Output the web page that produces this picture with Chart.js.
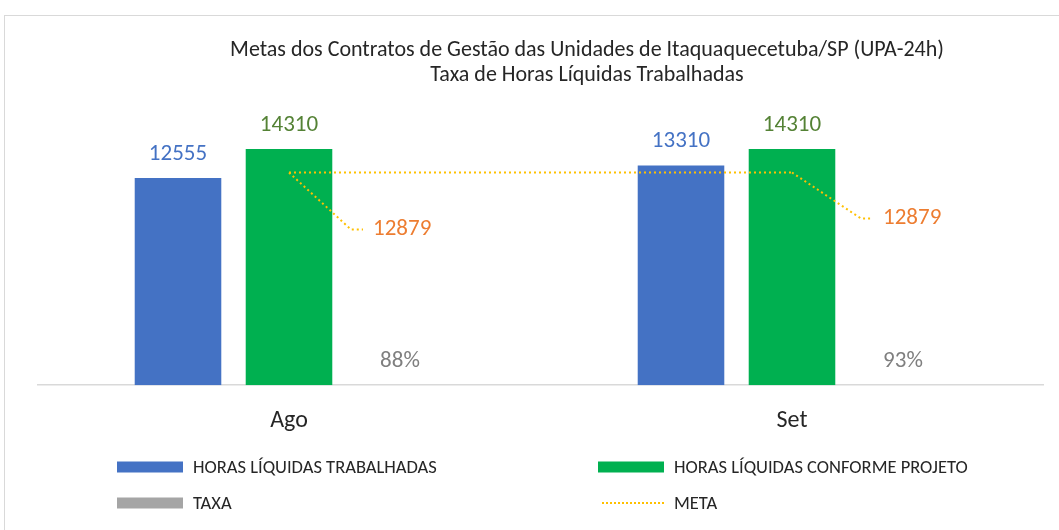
<!DOCTYPE html>
<html>
<head>
<meta charset="utf-8">
<script src="https://cdn.jsdelivr.net/npm/chart.js@4.4.0/dist/chart.umd.min.js"></script>
<style>
    body { margin: 0; background: #fff; }
    #frame { position: absolute; left: 4px; top: 15px; width: 1100px; height: 600px; border: 1px solid #d9d9d9; }
    #wrap { position: absolute; left: 0; top: 0; width: 1059px; height: 530px; }
</style>
</head>
<body>
<div id="frame"></div>
<div id="wrap"><canvas id="chart" width="1059" height="530"></canvas></div>
<script>
const categories = ["Ago", "Set"];
const horasTrabalhadas = [12555, 13310];
const horasProjeto = [14310, 14310];
const taxa = [0.88, 0.93];
const meta = [12879, 12879];
const titleLines = [
    "Metas dos Contratos de Gestão das Unidades de Itaquaquecetuba/SP (UPA-24h)",
    "Taxa de Horas Líquidas Trabalhadas"
];

const FONT = "Carlito, Lato, sans-serif";

function formatLabel(dataset, value) {
    if (dataset.isPercent) return Math.round(value * 100) + "%";
    return String(value);
}

// title sits a bit right of the canvas centre, like the original
const titlePlugin = {
    id: "offsetTitle",
    afterDraw(chart) {
        const ctx = chart.ctx;
        ctx.save();
        ctx.font = "22px " + FONT;
        ctx.fillStyle = "#262626";
        ctx.textAlign = "center";
        ctx.textBaseline = "middle";
        titleLines.forEach((line, i) => {
            ctx.fillText(line, 587, 50 + i * 25);
        });
        ctx.restore();
    }
};

// value labels above bars and the meta labels with leader lines
const labelsPlugin = {
    id: "valueLabels",
    afterDatasetsDraw(chart) {
        const ctx = chart.ctx;
        ctx.save();
        ctx.font = "23px " + FONT;
        ctx.textBaseline = "middle";
        chart.data.datasets.forEach((ds, i) => {
            const meta = chart.getDatasetMeta(i);
            meta.data.forEach((el, j) => {
                const text = formatLabel(ds, ds.data[j]);
                ctx.fillStyle = ds.labelColor;
                if (ds.type === "line") {
                    const off = ds.labelOffsets[j];
                    ctx.strokeStyle = ds.borderColor;
                    ctx.lineWidth = 2;
                    ctx.setLineDash([2, 3]);
                    ctx.beginPath();
                    ctx.moveTo(el.x, el.y);
                    ctx.lineTo(el.x + off[0] - 22, el.y + off[1]);
                    ctx.lineTo(el.x + off[0] - 10, el.y + off[1]);
                    ctx.stroke();
                    ctx.setLineDash([]);
                    ctx.textAlign = "left";
                    ctx.fillText(text, el.x + off[0], el.y + off[1]);
                } else {
                    ctx.textAlign = "center";
                    ctx.fillText(text, el.x, el.y - 24);
                }
            });
        });
        ctx.restore();
    }
};

// two column legend under the axis
const legendPlugin = {
    id: "gridLegend",
    afterDraw(chart) {
        const ctx = chart.ctx;
        const cols = [117, 598];
        const rows = [467, 503];
        ctx.save();
        ctx.font = "18.5px " + FONT;
        ctx.textBaseline = "middle";
        ctx.textAlign = "left";
        chart.data.datasets.forEach((ds, k) => {
            const x = cols[k % 2];
            const y = rows[Math.floor(k / 2)];
            if (ds.type === "line") {
                ctx.strokeStyle = ds.borderColor;
                ctx.lineWidth = 2;
                ctx.setLineDash([2, 2]);
                ctx.beginPath();
                ctx.moveTo(x + 4, y);
                ctx.lineTo(x + 66, y);
                ctx.stroke();
                ctx.setLineDash([]);
            } else {
                ctx.fillStyle = ds.backgroundColor;
                ctx.fillRect(x, y - 5.5, 66, 11);
            }
            ctx.fillStyle = "#262626";
            ctx.fillText(ds.label, x + 76, y + 1);
        });
        ctx.restore();
    }
};

new Chart(document.getElementById("chart"), {
    data: {
        labels: categories,
        datasets: [
            {
                type: "bar",
                label: "HORAS LÍQUIDAS TRABALHADAS",
                data: horasTrabalhadas,
                backgroundColor: "#4472C4",
                labelColor: "#4472C4",
                order: 1
            },
            {
                type: "bar",
                label: "HORAS LÍQUIDAS CONFORME PROJETO",
                data: horasProjeto,
                backgroundColor: "#00B050",
                labelColor: "#548235",
                order: 1
            },
            {
                type: "bar",
                label: "TAXA",
                data: taxa,
                isPercent: true,
                backgroundColor: "#A5A5A5",
                labelColor: "#7F7F7F",
                order: 1
            },
            {
                type: "line",
                label: "META",
                data: meta,
                borderColor: "#FFC000",
                borderWidth: 2,
                borderDash: [2, 3],
                pointRadius: 0,
                labelColor: "#ED7D31",
                labelOffsets: [[84, 57], [91, 46]],
                order: 0
            }
        ]
    },
    options: {
        responsive: false,
        animation: false,
        categoryPercentage: 0.662,
        barPercentage: 0.78,
        layout: { padding: { left: 37.5, right: 15.5, top: 121, bottom: 74 } },
        plugins: {
            legend: { display: false },
            tooltip: { enabled: false },
            title: { display: false }
        },
        scales: {
            x: {
                grid: { display: false, drawTicks: false },
                border: { display: true, color: "#d9d9d9", width: 1.5 },
                ticks: { color: "#262626", font: { family: FONT, size: 24 }, padding: 21 }
            },
            y: {
                display: false,
                min: 0,
                max: 16000
            }
        }
    },
    plugins: [titlePlugin, labelsPlugin, legendPlugin]
});
</script>
</body>
</html>
